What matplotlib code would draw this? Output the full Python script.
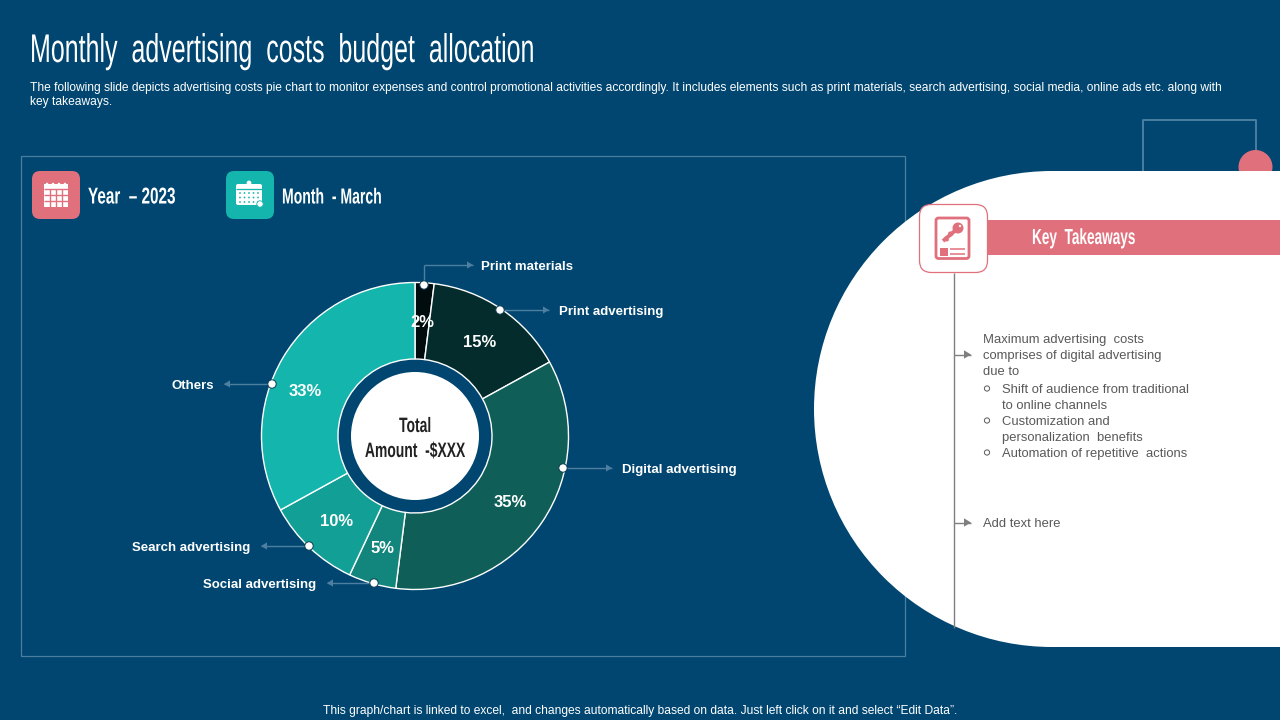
import matplotlib
matplotlib.use("Agg")
import matplotlib.pyplot as plt
from matplotlib.patches import Circle, Rectangle, FancyBboxPatch, Polygon
from matplotlib.patheffects import AbstractPathEffect
from matplotlib.transforms import Affine2D

# ---------- data ----------
categories = ["Print materials", "Print advertising", "Digital advertising",
              "Social advertising", "Search advertising", "Others"]
shares = [2, 15, 35, 5, 10, 33]
slice_colors = ["#000C0E", "#052C2C", "#0F5F58", "#12867C", "#12A096", "#14B5AC"]
callout_dots = [(424, 285), (500, 310), (563, 468), (374, 583), (309, 546), (272, 384)]
callout_bends = [[(424, 265), (473, 265)], [(549, 310)], [(612, 468)],
                 [(327, 583)], [(261, 546)], [(224, 384)]]
callout_text = [(481, 265, "left"), (559, 310, "left"), (622, 468, "left"),
                (316, 583, "right"), (250, 546, "right"), (214, 384, "right")]

title = "Monthly  advertising  costs  budget  allocation"
subtitle = ["The following slide depicts advertising costs pie chart to monitor expenses and control promotional activities accordingly. It includes elements such as print materials, search advertising, social media, online ads etc. along with",
            "key takeaways."]
footer = "This graph/chart is linked to excel,  and changes automatically based on data. Just left click on it and select \u201cEdit Data\u201d."
takeaway_lines = [(983, 338, "Maximum advertising  costs"), (983, 354, "comprises of digital advertising"),
                  (983, 370, "due to"), (1002, 388, "Shift of audience from traditional"),
                  (1002, 404, "to online channels"), (1002, 420, "Customization and"),
                  (1002, 436, "personalization  benefits"), (1002, 452, "Automation of repetitive  actions"),
                  (983, 522, "Add text here")]
bullet_rows = [388, 420, 452]

BG = "#004670"
FRAME = "#4A7FA0"
PINK = "#E0707C"
TEAL = "#14B5AC"
GREY = "#595959"
SANS = ["Liberation Sans", "DejaVu Sans"]

fig = plt.figure(figsize=(12.8, 7.2), dpi=100, facecolor=BG)
ax = fig.add_axes([0, 0, 1, 1])
ax.set_xlim(0, 1280)
ax.set_ylim(0, 720)
ax.set_aspect("equal")
ax.axis("off")


def Y(py):
    return 720 - py


class Tall(AbstractPathEffect):
    """Stretch glyphs vertically about a baseline so a small font reads as a condensed face."""

    def __init__(self, y0, sy):
        super().__init__()
        self.y0, self.sy = y0, sy

    def draw_path(self, renderer, gc, tpath, affine, rgbFace=None):
        tr = Affine2D().translate(0, -self.y0).scale(1, self.sy).translate(0, self.y0)
        renderer.draw_path(gc, tpath, affine + tr, rgbFace)


def T(x, y, s, size, color="white", ha="left", weight="normal", z=10):
    return ax.text(x, Y(y + 2.0), s, fontsize=size, color=color, ha=ha, va="center",
                   family=SANS, fontweight=weight, zorder=z)


def C(x, base, s, size, sy, color="white", ha="left", weight="normal", z=10):
    t = ax.text(x, Y(base), s, fontsize=size, color=color, ha=ha, va="baseline",
                family=SANS, fontweight=weight, zorder=z)
    t.set_path_effects([Tall(Y(base), sy)])
    return t


def rbox(x0, y0, x1, y1, r, fc, ec="none", lw=0, z=4):
    ax.add_patch(FancyBboxPatch((x0 + r, Y(y1) + r), x1 - x0 - 2 * r, y1 - y0 - 2 * r,
                                boxstyle=f"round,pad={r},rounding_size={r}",
                                fc=fc, ec=ec, lw=lw, zorder=z))


def L(xs, ys, color, lw=1.0, z=5):
    ax.plot(xs, [Y(v) for v in ys], color=color, lw=lw, zorder=z, solid_capstyle="butt")


def arrow(x0, y0, x1, y1, color, lw=1.0, size=5, z=5):
    L([x0, x1], [y0, y1], color, lw, z)
    s = 1 if x1 > x0 else -1
    ax.add_patch(Polygon([(x1, Y(y1)), (x1 - s * size, Y(y1) + size * .6), (x1 - s * size, Y(y1) - size * .6)],
                         fc=color, ec="none", zorder=z))


# header
C(30, 62, title, 18, 1.6)
T(30, 85.5, subtitle[0], 8.64)
T(30, 100, subtitle[1], 8.64)
T(640, 709, footer, 8.62, ha="center")

# frame
ax.add_patch(Rectangle((21, Y(655.5)), 884, 499.5, fc="none", ec=FRAME, lw=0.9, zorder=1))

# top right decoration
L([1143, 1143, 1255.5, 1255.5], [180, 120, 120, 160], FRAME, 1.4, 1)
ax.add_patch(Circle((1255.5, Y(167)), 17, fc=PINK, ec="none", zorder=1))

# white panel
ax.add_patch(Circle((1052, Y(409)), 238, fc="white", ec="none", zorder=2))
ax.add_patch(Rectangle((1052, Y(647)), 228, 476, fc="white", ec="none", zorder=2))

# key takeaways
ax.add_patch(Rectangle((985, Y(255)), 295, 35, fc=PINK, ec="none", zorder=3))
C(1032, 244, "Key  Takeaways", 9.8, 1.6, weight="bold")
L([953.5, 953.5], [273, 628], "#7F7F7F", 1.0, 3)
rbox(919.5, 204.5, 987.5, 272.5, 12, "white", PINK, 0.9)
rbox(936, 218, 969, 258.5, 2.5, "white", PINK, 2.0, 5)
ax.add_patch(Circle((958, Y(228)), 5.5, fc=PINK, ec="none", zorder=6))
ax.add_patch(Circle((960, Y(226)), 1.2, fc="white", ec="none", zorder=7))
L([943, 957], [241, 229], PINK, 2.8, 6)
L([945, 948], [237, 241], PINK, 2.2, 6)
L([949, 952], [232, 236], PINK, 2.2, 6)
ax.add_patch(Rectangle((940, Y(255.7)), 7.7, 8, fc=PINK, ec="none", zorder=6))
L([950, 965], [249, 249], PINK, 1.1, 6)
L([950, 965], [253.7, 253.7], PINK, 1.1, 6)
arrow(954, 354.5, 971, 354.5, "#7F7F7F", 1.0, 7)
arrow(954, 522.5, 971, 522.5, "#7F7F7F", 1.0, 7)
for x, y, s in takeaway_lines:
    T(x, y, s, 9.35, color=GREY)
for y in bullet_rows:
    ax.add_patch(Circle((987, Y(y + 0.5)), 2.6, fc="white", ec=GREY, lw=0.7, zorder=6))

# date tiles
rbox(32, 171, 80, 219, 8, PINK)
rbox(226, 171, 274, 219, 8, TEAL)
C(88, 203.5, "Year  \u2013 2023", 11, 1.5, weight="bold")
C(282, 203.5, "Month  - March", 10.1, 1.55, weight="bold")

# pink calendar
ax.add_patch(Rectangle((44, Y(207)), 24, 23, fc="white", ec="none", zorder=5))
for i in range(4):
    ax.add_patch(Circle((47 + i * 6, Y(184)), 1.3, fc="white", ec="none", zorder=5))
L([44, 68], [189, 189], PINK, 1, 6)
for i in range(1, 4):
    L([44 + i * 6] * 2, [189, 207], PINK, 1, 6)
for j in (195, 201):
    L([44, 68], [j, j], PINK, 1, 6)

# teal calendar
rbox(236, 184, 262, 205, 2, "white", z=5)
ax.add_patch(Circle((249, Y(183)), 2.4, fc="white", ec="none", zorder=5))
L([236, 262], [188.5, 188.5], TEAL, 0.9, 6)
for j in (193, 197.5, 202):
    for i in range(5):
        ax.add_patch(Circle((240 + i * 4.5, Y(j)), 0.9, fc=TEAL, ec="none", zorder=6))
ax.add_patch(Circle((260, Y(204)), 3.2, fc="white", ec=TEAL, lw=0.6, zorder=7))

# donut
cx, cy, R = 415, Y(436), 153.5
wedges, _, pct = ax.pie(shares, colors=slice_colors, startangle=90, counterclock=False,
                        center=(cx, cy), radius=R, autopct="%d%%", pctdistance=0.75,
                        wedgeprops=dict(width=R - 77, edgecolor="white", linewidth=1.0),
                        frame=False)
for w in wedges:
    w.set_zorder(3)
for p in pct:
    p.set(color="white", fontsize=12, fontweight="bold", family=SANS, zorder=8)
    px, py = p.get_position()
    p.set_position((px, py - 1.5))
pct[5].set_position((305.5, Y(391.5)))
ax.set_xlim(0, 1280)
ax.set_ylim(0, 720)
ax.add_patch(Circle((cx, cy), 64, fc="white", ec="none", zorder=4))
C(415, 432, "Total", 10, 1.5, color="#222222", ha="center", weight="bold")
C(415, 457, "Amount  -$XXX", 10, 1.5, color="#222222", ha="center", weight="bold")

# call-outs
ARROW = "#4F7FA0"
for name, dot, path, (tx, ty, ha) in zip(categories, callout_dots, callout_bends, callout_text):
    pts = [dot] + path
    for (x0, y0), (x1, y1) in zip(pts[:-2], pts[1:-1]):
        L([x0, x1], [y0, y1], ARROW, 1.0, 5)
    arrow(*pts[-2], *pts[-1], ARROW, 1.0, 6)
    ax.add_patch(Circle((dot[0], Y(dot[1])), 4.2, fc="white", ec="#0B3B50", lw=0.7, zorder=9))
    T(tx, ty, name, 9.55, ha=ha, weight="bold")

fig.savefig("out.png", dpi=100, facecolor=BG)
